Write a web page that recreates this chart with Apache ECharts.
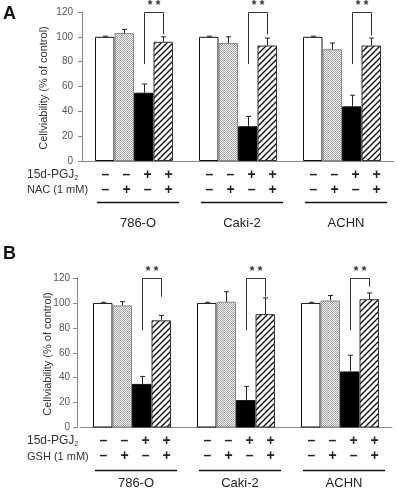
<!DOCTYPE html>
<html><head><meta charset="utf-8">
<script src="https://cdn.jsdelivr.net/npm/echarts@6/dist/echarts.min.js"></script>
<style>html,body{margin:0;padding:0;background:#fff}#c{width:398px;height:490px}</style>
</head><body><div id="c"></div>
<script>
// ---------- data ----------
const cellLines = ['786-O', 'Caki-2', 'ACHN'];
const yMin = 0, yMax = 120, yStep = 20;
const pgjRow = ['–', '–', '+', '+'];
const agentRow = ['–', '+', '–', '+'];
const pgjLabel = '15d-PGJ';
const agentLabelA = 'NAC (1 mM)';
const agentLabelB = 'GSH (1 mM)';
const yTitle = 'Cellviability (% of control)';
const sigText = '* *';

// Panel A (NAC)
const aControl = [100, 100, 100];
const aControlErr = [0.5, 0.5, 0.5];
const aNAC = [103, 95, 90];
const aNACErr = [3, 5, 5];
const aPGJ = [55, 28, 44];
const aPGJErr = [7, 8, 9];
const aBoth = [96, 93, 93];
const aBothErr = [4, 6, 6];
const aBracketLeft = [78, 78, 78];
const aBracketTop = [120, 120, 120];
const aBracketRight = [102, 102, 101];

// Panel B (GSH)
const bControl = [100, 100, 100];
const bControlErr = [0.5, 0.5, 0.5];
const bGSH = [98, 101, 102];
const bGSHErr = [3, 8, 4];
const bPGJ = [35, 22, 45];
const bPGJErr = [6, 11, 13];
const bBoth = [86, 91, 103];
const bBothErr = [4, 13, 5];
const bBracketLeft = [78, 78, 78];
const bBracketTop = [120, 120, 120];
const bBracketRight = [105, 105, 113];

// ---------- patterns ----------
function dotPattern() {
  const c = document.createElement('canvas'); c.width = 2; c.height = 2;
  const g = c.getContext('2d');
  g.fillStyle = '#f2f2f2'; g.fillRect(0, 0, 2, 2);
  g.fillStyle = '#a4a4a4'; g.fillRect(0, 0, 1, 1); g.fillRect(1, 1, 1, 1);
  return { image: c, repeat: 'repeat' };
}
function hatchPattern() {
  const s = 6;
  const c = document.createElement('canvas'); c.width = s; c.height = s;
  const g = c.getContext('2d');
  g.fillStyle = '#fff'; g.fillRect(0, 0, s, s);
  g.strokeStyle = '#111'; g.lineWidth = 1.4;
  g.beginPath();
  g.moveTo(-1, s + 1); g.lineTo(s + 1, -1);
  g.moveTo(-1, 1); g.lineTo(1, -1);
  g.moveTo(s - 1, s + 1); g.lineTo(s + 1, s - 1);
  g.stroke();
  return { image: c, repeat: 'repeat' };
}

const FONT = '"Liberation Sans", Arial, sans-serif';
const GAP = 0.25;
const fills = ['#ffffff', dotPattern(), '#000000', hatchPattern()];
const borders = ['#111', '#888', '#111', '#333'];

function barSeries(values, slot, gi) {
  return {
    type: 'bar', xAxisIndex: gi, yAxisIndex: gi, data: values,
    barGap: '0%', barCategoryGap: (GAP * 100) + '%',
    itemStyle: { color: fills[slot], borderColor: borders[slot], borderWidth: 1 },
    silent: true, z: 2
  };
}
function errSeries(values, errs, slot, gi) {
  return {
    type: 'custom', xAxisIndex: gi, yAxisIndex: gi, z: 3, silent: true,
    data: values.map((v, i) => [i, v, errs[i]]),
    encode: { x: 0, y: 1 },
    renderItem: function (params, api) {
      const c = api.value(0), v = api.value(1), e = api.value(2);
      const p0 = api.coord([c, v]); const p1 = api.coord([c, v + e]);
      const bw = api.size([1, 0])[0] * (1 - GAP) / 4;
      const x = Math.round(p0[0] + (slot - 1.5) * bw) + 0.5;
      return { type: 'group', children: [
        { type: 'line', shape: { x1: x, y1: p0[1], x2: x, y2: p1[1] }, style: { stroke: '#222', lineWidth: 1 } },
        { type: 'line', shape: { x1: x - 2.5, y1: p1[1], x2: x + 2.5, y2: p1[1] }, style: { stroke: '#222', lineWidth: 1 } }
      ] };
    }
  };
}
function bracketSeries(left, top, right, gi) {
  return {
    type: 'custom', xAxisIndex: gi, yAxisIndex: gi, z: 4, silent: true, clip: false,
    data: left.map((v, i) => [i, v, top[i], right[i]]),
    encode: { x: 0, y: 1 },
    renderItem: function (params, api) {
      const c = api.value(0);
      const bw = api.size([1, 0])[0] * (1 - GAP) / 4;
      const cx = api.coord([c, 0])[0];
      const xl = Math.round(cx + 0.5 * bw) + 0.5, xr = Math.round(cx + 1.5 * bw) + 0.5;
      const yl = api.coord([c, api.value(1)])[1];
      const yt = Math.round(api.coord([c, api.value(2)])[1]) + 0.5;
      const yr = api.coord([c, api.value(3)])[1];
      return { type: 'group', children: [
        { type: 'polyline', shape: { points: [[xl, yl], [xl, yt], [xr, yt], [xr, yr]] }, style: { stroke: '#333', lineWidth: 1, fill: null } },
        { type: 'text', x: (xl + xr) / 2, y: yt - 1, style: { text: sigText, fontSize: 12, fontWeight: 'bold', fontFamily: FONT, fill: '#333', align: 'center', verticalAlign: 'bottom' } }
      ] };
    }
  };
}

const grids = [
  { left: 82, top: 12, width: 312, height: 149 },
  { left: 80, top: 278, width: 312, height: 149.5 }
];
function xAx(gi) {
  return { type: 'category', gridIndex: gi, data: cellLines,
    axisLine: { lineStyle: { color: '#8a8a8a', width: 1 } }, axisTick: { show: false }, axisLabel: { show: false } };
}
function yAx(gi, offset, margin) {
  return { type: 'value', gridIndex: gi, min: yMin, max: yMax, interval: yStep, offset: offset,
    axisLine: { show: true, lineStyle: { color: '#8a8a8a', width: 1 } },
    axisTick: { show: true, length: 4, lineStyle: { color: '#8a8a8a' } },
    axisLabel: { fontSize: 10, color: '#555', fontFamily: FONT, margin: margin },
    splitLine: { show: false } };
}

const chart = echarts.init(document.getElementById('c'), null, { renderer: 'canvas' });
chart.setOption({
  animation: false,
  backgroundColor: '#fff',
  grid: grids,
  xAxis: [xAx(0), xAx(1)],
  yAxis: [yAx(0, 0, 9), yAx(1, 3, 7)],
  series: [
    barSeries(aControl, 0, 0), barSeries(aNAC, 1, 0), barSeries(aPGJ, 2, 0), barSeries(aBoth, 3, 0),
    errSeries(aControl, aControlErr, 0, 0), errSeries(aNAC, aNACErr, 1, 0), errSeries(aPGJ, aPGJErr, 2, 0), errSeries(aBoth, aBothErr, 3, 0),
    bracketSeries(aBracketLeft, aBracketTop, aBracketRight, 0),
    barSeries(bControl, 0, 1), barSeries(bGSH, 1, 1), barSeries(bPGJ, 2, 1), barSeries(bBoth, 3, 1),
    errSeries(bControl, bControlErr, 0, 1), errSeries(bGSH, bGSHErr, 1, 1), errSeries(bPGJ, bPGJErr, 2, 1), errSeries(bBoth, bBothErr, 3, 1),
    bracketSeries(bBracketLeft, bBracketTop, bBracketRight, 1)
  ]
});

// ---------- annotation rows below axes ----------
const g = [];
function panelAnnot(gi, letter, letterY, agentLabel, row1Y, row2Y, lineY, nameY, titleX, titleY) {
  g.push({ type: 'text', x: 3, y: letterY, style: { text: letter, fontSize: 18, fontWeight: 'bold', fontFamily: FONT, fill: '#111' } });
  g.push({ type: 'text', x: titleX, y: titleY, rotation: Math.PI / 2,
    style: { text: yTitle, fontSize: 11, fontFamily: FONT, fill: '#333', align: 'center', verticalAlign: 'middle' } });
  g.push({ type: 'text', x: 27, y: row1Y, style: { text: pgjLabel + '{s|2}', fontSize: 12, fontFamily: FONT, fill: '#333', verticalAlign: 'middle',
    rich: { s: { fontSize: 7, fontFamily: FONT, fill: '#333', padding: [6, 0, 0, 0] } } } });
  g.push({ type: 'text', x: 27, y: row2Y, style: { text: agentLabel, fontSize: 11, fontFamily: FONT, fill: '#333', verticalAlign: 'middle' } });
  const bw = (grids[gi].width / cellLines.length) * (1 - GAP) / 4;
  cellLines.forEach((name, i) => {
    const cx = chart.convertToPixel({ xAxisIndex: gi }, i);
    for (let k = 0; k < 4; k++) {
      const x = cx + (k - 1.5) * bw * 1.08 + 3;
      g.push({ type: 'text', x: x, y: row1Y, style: { text: pgjRow[k], fontSize: 14, fontWeight: 'bold', fontFamily: FONT, fill: '#222', align: 'center', verticalAlign: 'middle' } });
      g.push({ type: 'text', x: x, y: row2Y, style: { text: agentRow[k], fontSize: 14, fontWeight: 'bold', fontFamily: FONT, fill: '#222', align: 'center', verticalAlign: 'middle' } });
    }
    g.push({ type: 'line', shape: { x1: cx + 4 - 41, y1: lineY, x2: cx + 4 + 41, y2: lineY }, style: { stroke: '#111', lineWidth: 1.6 } });
    g.push({ type: 'text', x: cx + 4, y: nameY, style: { text: name, fontSize: 13, fontFamily: FONT, fill: '#222', align: 'center', verticalAlign: 'middle' } });
  });
}
panelAnnot(0, 'A', 5, agentLabelA, 175, 190, 202.5, 223, 44, 88);
panelAnnot(1, 'B', 245, agentLabelB, 441, 456.5, 470.5, 483, 48, 354);
chart.setOption({ graphic: g });
</script></body></html>
